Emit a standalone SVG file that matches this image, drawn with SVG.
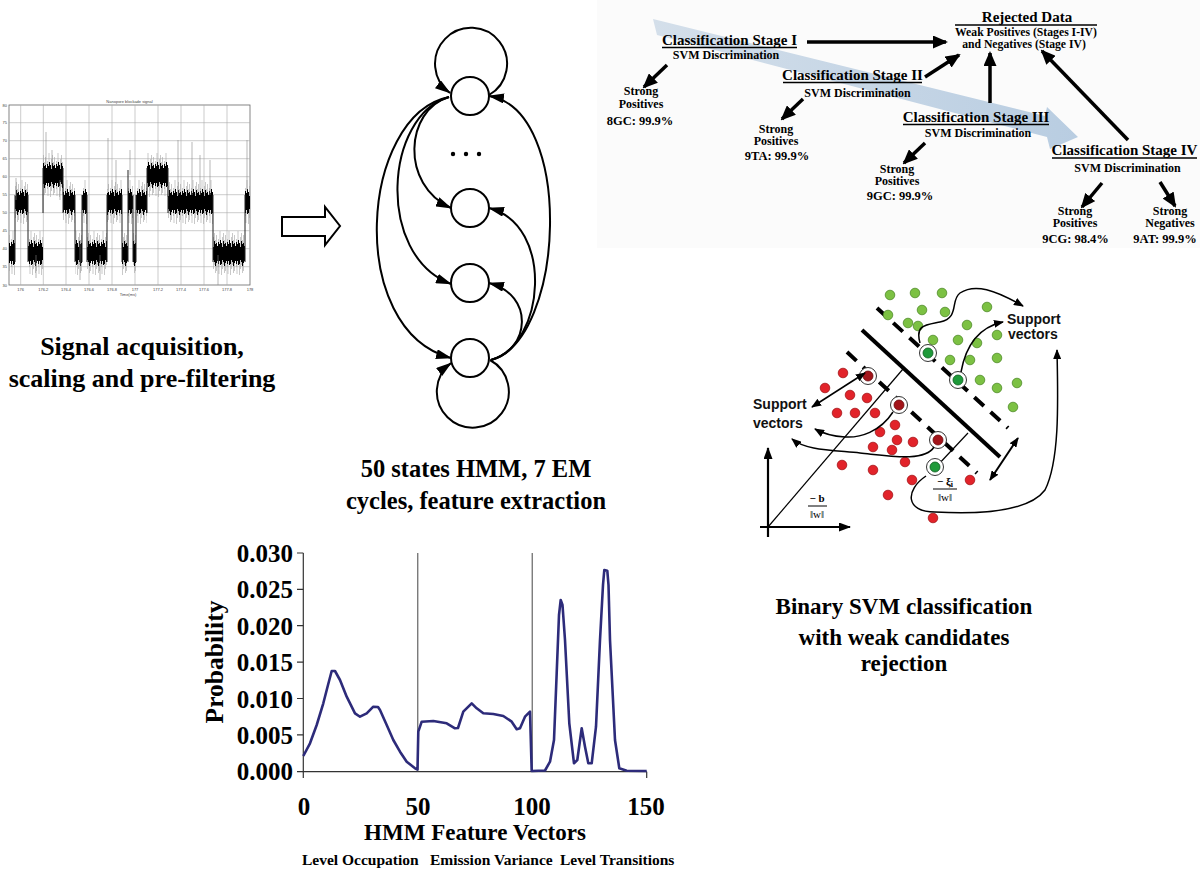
<svg xmlns="http://www.w3.org/2000/svg" width="1200" height="872" viewBox="0 0 1200 872">
<style>
.lbl{font-family:"Liberation Serif","Times New Roman",serif;font-weight:bold;fill:#000}
.big{font-size:24.5px;text-anchor:middle}
.tr{font-size:15px;text-anchor:middle}
.sm{font-size:12px;text-anchor:middle}
.sv{font-family:"Liberation Sans",Arial,sans-serif;font-weight:bold;font-size:14px;fill:#111}
.tiny{font-family:"Liberation Sans",Arial,sans-serif;font-size:4px;fill:#444}
.grid{stroke:#aaa;stroke-width:0.6}
.ul{stroke:#000;stroke-width:1.6}
.thk{stroke:#000;stroke-width:3.5;fill:none}
.hmm{stroke:#000;stroke-width:2;fill:none}
.node{fill:#fff;stroke:#000;stroke-width:2}
.g{fill:#7cc143;stroke:#4f8a2a;stroke-width:0.8}
.r{fill:#e2232a;stroke:#a31418;stroke-width:0.8}
.thin{stroke:#000;stroke-width:1.5;fill:none}
</style>
<defs>
<marker id="ah" markerUnits="userSpaceOnUse" markerWidth="16" markerHeight="10" refX="15" refY="5" orient="auto"><path d="M0,0 L16,5 L0,10 z" fill="#000"/></marker>
<marker id="ab" markerUnits="userSpaceOnUse" markerWidth="15" markerHeight="13" refX="13" refY="6.5" orient="auto"><path d="M0,0 L15,6.5 L0,13 z" fill="#000"/></marker>
<marker id="as" markerUnits="userSpaceOnUse" markerWidth="10" markerHeight="8" refX="9" refY="4" orient="auto-start-reverse"><path d="M0,0 L10,4 L0,8 z" fill="#000"/></marker>
<marker id="ax" markerUnits="userSpaceOnUse" markerWidth="12" markerHeight="9" refX="11" refY="4.5" orient="auto-start-reverse"><path d="M0,0 L12,4.5 L0,9 z" fill="#000"/></marker>
<linearGradient id="band" x1="0" y1="0" x2="1" y2="0">
<stop offset="0" stop-color="#cddae7"/><stop offset="1" stop-color="#adc5dd"/>
</linearGradient>
<pattern id="nzL" patternUnits="userSpaceOnUse" x="0" y="231" width="9" height="44">
<g stroke="#a5a5a5" stroke-width="0.6"><path d="M0.5,4V40M2.5,8V36M4,0V30M5.5,12V44M6.5,6V38M7.5,2V34M8.5,9V42M3,14V43"/></g>
<g stroke="#000" stroke-width="1"><path d="M0.5,12V32M1.5,15V30M2.5,11V33M3.5,13V30M4.5,9V34M5.5,12V33M6.5,16V29M7.5,10V31M8.5,13V35"/></g>
</pattern>
<pattern id="nzM" patternUnits="userSpaceOnUse" x="0" y="180" width="9" height="44">
<g stroke="#a5a5a5" stroke-width="0.6"><path d="M0.5,4V40M2.5,8V36M4,0V30M5.5,12V44M6.5,6V38M7.5,2V34M8.5,9V42M3,14V43"/></g>
<g stroke="#000" stroke-width="1"><path d="M0.5,12V32M1.5,15V30M2.5,11V33M3.5,13V30M4.5,9V34M5.5,12V33M6.5,16V29M7.5,10V31M8.5,13V35"/></g>
</pattern>
<pattern id="nzH" patternUnits="userSpaceOnUse" x="0" y="153" width="9" height="44">
<g stroke="#a5a5a5" stroke-width="0.6"><path d="M0.5,4V40M2.5,8V36M4,0V30M5.5,12V44M6.5,6V38M7.5,2V34M8.5,9V42M3,14V43"/></g>
<g stroke="#000" stroke-width="1"><path d="M0.5,12V32M1.5,15V30M2.5,11V33M3.5,13V30M4.5,9V34M5.5,12V33M6.5,16V29M7.5,10V31M8.5,13V35"/></g>
</pattern>
</defs>
<rect width="1200" height="872" fill="#fff"/>

<!-- Signal plot -->
<g id="signal-plot">
<rect x="9" y="105" width="241" height="180" fill="#fff" stroke="#666" stroke-width="0.8"/>
<g class="grid">
<path d="M20.7,105V285M43.3,105V285M66,105V285M89,105V285M112,105V285M135,105V285M158,105V285M181,105V285M204,105V285M227,105V285"/>
<path d="M9,122.7H250M9,140.7H250M9,158.7H250M9,176.7H250M9,194.7H250M9,212.7H250M9,230.7H250M9,248.7H250M9,266.7H250"/>
</g>
<rect x="9" y="231" width="6" height="44" fill="url(#nzL)"/>
<rect x="15" y="180" width="13" height="44" fill="url(#nzM)"/>
<rect x="28" y="231" width="15" height="44" fill="url(#nzL)"/>
<rect x="43" y="153" width="20" height="44" fill="url(#nzH)"/>
<rect x="63" y="180" width="12" height="44" fill="url(#nzM)"/>
<rect x="75" y="231" width="7" height="44" fill="url(#nzL)"/>
<rect x="82" y="180" width="5" height="44" fill="url(#nzM)"/>
<rect x="87" y="231" width="20" height="44" fill="url(#nzL)"/>
<rect x="107" y="180" width="15" height="44" fill="url(#nzM)"/>
<rect x="122" y="231" width="6" height="44" fill="url(#nzL)"/>
<rect x="128" y="180" width="5" height="44" fill="url(#nzM)"/>
<rect x="133" y="231" width="3" height="44" fill="url(#nzL)"/>
<rect x="136" y="180" width="11" height="44" fill="url(#nzM)"/>
<rect x="147" y="153" width="21" height="44" fill="url(#nzH)"/>
<rect x="168" y="180" width="45" height="44" fill="url(#nzM)"/>
<rect x="213" y="231" width="32" height="44" fill="url(#nzL)"/>
<rect x="245" y="180" width="5" height="44" fill="url(#nzM)"/>
<g stroke="#222" stroke-width="1">
<path d="M15,195V262M28,195V262M43,168V213M63,168V213M75,195V262M82,195V262M87,195V262M107,195V262M122,195V262M128,170V262M133,195V262M136,195V262M147,168V213M168,168V213M213,195V262M245,195V262"/>
</g>
<g stroke="#888" stroke-width="0.6">
<path d="M16,178V200M46,132V165M52,150V165M108,138V190M116,160V190M130,150V175M178,140V195M192,142V195M200,155V195M210,160V195M247,140V190M80,240V280M36,255V278M100,255V280M218,255V285M60,180V200"/>
</g>
<text x="129.5" y="103" class="tiny" text-anchor="middle">Nanopore blockade signal</text>
<g class="tiny" text-anchor="end">
<text x="7" y="106.5">80</text><text x="7" y="124.2">75</text><text x="7" y="142.2">70</text><text x="7" y="160.2">65</text><text x="7" y="178.2">60</text><text x="7" y="196.2">55</text><text x="7" y="214.2">50</text><text x="7" y="232.2">45</text><text x="7" y="250.2">40</text><text x="7" y="268.2">35</text><text x="7" y="286.5">30</text>
</g>
<g class="tiny" text-anchor="middle">
<text x="20.7" y="290.5">176</text><text x="43.3" y="290.5">176.2</text><text x="66" y="290.5">176.4</text><text x="89" y="290.5">176.6</text><text x="112" y="290.5">176.8</text><text x="135" y="290.5">177</text><text x="158" y="290.5">177.2</text><text x="181" y="290.5">177.4</text><text x="204" y="290.5">177.6</text><text x="227" y="290.5">177.8</text><text x="250" y="290.5">178</text>
<text x="128" y="295.5">Time(ms)</text>
</g>
</g>

<g id="label-signal">
<text class="lbl big" x="142" y="355" style="font-size:26px">Signal acquisition,</text>
<text class="lbl big" x="142" y="387" style="font-size:26px">scaling and pre-filtering</text>
</g>

<g id="arrow-1"><polygon points="282,217 325,217 325,207 340,226 325,245 325,236 282,236" fill="#fff" stroke="#000" stroke-width="2"/></g>
<g id="arrow-2"><polygon points="601,217 643,217 643,207 657,226 643,245 643,236 601,236" fill="#fff" stroke="#000" stroke-width="2"/></g>

<!-- HMM -->
<g id="hmm-connectors">
<path class="hmm" d="M489,95 A36 36 0 1 0 450,93" marker-end="url(#ah)"/>
<path class="hmm" d="M490,360 A36 36 0 1 1 451,363" marker-end="url(#ah)"/>
<path class="hmm" d="M449,97 C405,110 400,185 451,208" marker-end="url(#ah)"/>
<path class="hmm" d="M449,97 C385,115 375,255 451,284" marker-end="url(#ah)"/>
<path class="hmm" d="M449,97 C360,115 345,330 451,358" marker-end="url(#ah)"/>
<path class="hmm" d="M491,360 C530,350 535,295 489,283" marker-end="url(#ah)"/>
<path class="hmm" d="M491,360 C545,345 555,225 489,208" marker-end="url(#ah)"/>
<path class="hmm" d="M491,360 C565,340 575,110 489,96" marker-end="url(#ah)"/>
</g>
<g id="hmm-state-1"><circle class="node" cx="470" cy="96" r="19"/></g>
<g id="hmm-dots"><circle cx="453" cy="154" r="2.2"/><circle cx="466" cy="154" r="2.2"/><circle cx="479" cy="154" r="2.2"/></g>
<g id="hmm-state-2"><circle class="node" cx="470" cy="208" r="19"/></g>
<g id="hmm-state-3"><circle class="node" cx="470" cy="283" r="19"/></g>
<g id="hmm-state-4"><circle class="node" cx="470" cy="358" r="19"/></g>

<g id="label-hmm">
<text class="lbl big" x="476" y="477">50 states HMM, 7 EM</text>
<text class="lbl big" x="476" y="509">cycles, feature extraction</text>
</g>

<!-- Classification cascade -->
<rect x="597" y="0" width="603" height="248" fill="#fbfbfb"/>
<polygon points="653,19 1045,116 1047,107 1078,137 1050,149 1047,137 657,35" fill="url(#band)" opacity="0.85"/>

<g id="cascade-connectors">
<path class="thk" d="M807,42 L946,42" marker-end="url(#ab)"/>
<path class="thk" d="M925,77 L959,55" marker-end="url(#ab)"/>
<path class="thk" d="M990,103 L990,53" marker-end="url(#ab)"/>
<path class="thk" d="M1128,140 L1042,51" marker-end="url(#ab)"/>
<path class="thk" d="M667,65 L644,87" marker-end="url(#ab)"/>
<path class="thk" d="M803,99 L782,119" marker-end="url(#ab)"/>
<path class="thk" d="M925,143 L904,163" marker-end="url(#ab)"/>
<path class="thk" d="M1102,183 L1082,207" marker-end="url(#ab)"/>
<path class="thk" d="M1160,182 L1175,206" marker-end="url(#ab)"/>
</g>

<g id="rejected-data">
<text class="lbl tr" x="1027" y="22">Rejected Data</text>
<line class="ul" x1="955" y1="25" x2="1097" y2="25"/>
<text class="lbl" x="1026" y="36" style="font-size:11.7px;text-anchor:middle">Weak Positives (Stages I-IV)</text>
<text class="lbl" x="1024" y="48" style="font-size:11.7px;text-anchor:middle">and Negatives (Stage IV)</text>
</g>
<g id="stage-1">
<text class="lbl tr" x="729.5" y="45">Classification Stage I</text>
<line class="ul" x1="662" y1="47.5" x2="797" y2="47.5"/>
<text class="lbl sm" x="726" y="59">SVM Discrimination</text>
</g>
<g id="stage-2">
<text class="lbl tr" x="852.5" y="80">Classification Stage II</text>
<line class="ul" x1="783" y1="82.5" x2="922" y2="82.5"/>
<text class="lbl sm" x="857.5" y="96.5">SVM Discrimination</text>
</g>
<g id="stage-3">
<text class="lbl tr" x="976" y="121.5">Classification Stage III</text>
<line class="ul" x1="903" y1="124.5" x2="1049" y2="124.5"/>
<text class="lbl sm" x="978" y="137">SVM Discrimination</text>
</g>
<g id="stage-4">
<text class="lbl tr" x="1124.5" y="155">Classification Stage IV</text>
<line class="ul" x1="1052" y1="158" x2="1197" y2="158"/>
<text class="lbl sm" x="1127.5" y="171.5">SVM Discrimination</text>
</g>
<g id="strong-pos-1">
<text class="lbl sm" x="641" y="95">Strong</text><text class="lbl sm" x="641" y="107.5">Positives</text>
<text class="lbl" x="640" y="125" style="font-size:12.5px;text-anchor:middle">8GC: 99.9%</text>
</g>
<g id="strong-pos-2">
<text class="lbl sm" x="776" y="132.5">Strong</text><text class="lbl sm" x="776" y="144.5">Positives</text>
<text class="lbl" x="777" y="160" style="font-size:12.5px;text-anchor:middle">9TA: 99.9%</text>
</g>
<g id="strong-pos-3">
<text class="lbl sm" x="897" y="173">Strong</text><text class="lbl sm" x="897" y="185">Positives</text>
<text class="lbl" x="900" y="200" style="font-size:12.5px;text-anchor:middle">9GC: 99.9%</text>
</g>
<g id="strong-pos-4">
<text class="lbl sm" x="1075" y="215">Strong</text><text class="lbl sm" x="1075" y="227">Positives</text>
<text class="lbl" x="1075.5" y="243" style="font-size:12.5px;text-anchor:middle">9CG: 98.4%</text>
</g>
<g id="strong-neg-4">
<text class="lbl sm" x="1170" y="215">Strong</text><text class="lbl sm" x="1170" y="227">Negatives</text>
<text class="lbl" x="1165" y="243" style="font-size:12.5px;text-anchor:middle">9AT: 99.9%</text>
</g>

<!-- SVM -->
<g id="svm-plot">
<path d="M768,537 L768,448" class="thin" style="stroke-width:2.2" marker-end="url(#ax)"/>
<path d="M760,527 L850,527" class="thin" style="stroke-width:2.2" marker-end="url(#ax)"/>
<path d="M768,527 L903,369" class="thin" style="stroke-width:1.2"/>
<path d="M968,433 L936,467" class="thin" style="stroke-width:1.2"/>
<path d="M862,330 L1000,457" stroke="#000" stroke-width="4"/>
<path d="M877,308 L1008,428" stroke="#000" stroke-width="4" stroke-dasharray="13 9"/>
<path d="M847,352 L977,473" stroke="#000" stroke-width="4" stroke-dasharray="13 9"/>
<path d="M990,480 L1018,438" class="thin" style="stroke-width:2" marker-start="url(#as)" marker-end="url(#as)"/>
<g>
<circle class="g" cx="890" cy="295" r="4.8"/><circle class="g" cx="915" cy="293" r="4.8"/><circle class="g" cx="942" cy="293" r="4.8"/><circle class="g" cx="922" cy="310" r="4.8"/><circle class="g" cx="945" cy="312" r="4.8"/><circle class="g" cx="888" cy="315" r="4.8"/><circle class="g" cx="908" cy="323" r="4.8"/><circle class="g" cx="918" cy="326" r="4.8"/><circle class="g" cx="967" cy="325" r="4.8"/><circle class="g" cx="987" cy="307" r="4.8"/><circle class="g" cx="997" cy="335" r="4.8"/><circle class="g" cx="933" cy="340" r="4.8"/><circle class="g" cx="958" cy="340" r="4.8"/><circle class="g" cx="977" cy="343" r="4.8"/><circle class="g" cx="950" cy="360" r="4.8"/><circle class="g" cx="970" cy="360" r="4.8"/><circle class="g" cx="997" cy="358" r="4.8"/><circle class="g" cx="980" cy="380" r="4.8"/><circle class="g" cx="997" cy="388" r="4.8"/><circle class="g" cx="1017" cy="383" r="4.8"/><circle class="g" cx="1013" cy="407" r="4.8"/>
</g>
<g>
<circle class="r" cx="843" cy="373" r="4.8"/><circle class="r" cx="825" cy="388" r="4.8"/><circle class="r" cx="850" cy="395" r="4.8"/><circle class="r" cx="867" cy="398" r="4.8"/><circle class="r" cx="837" cy="413" r="4.8"/><circle class="r" cx="855" cy="413" r="4.8"/><circle class="r" cx="875" cy="413" r="4.8"/><circle class="r" cx="880" cy="432" r="4.8"/><circle class="r" cx="895" cy="425" r="4.8"/><circle class="r" cx="897" cy="440" r="4.8"/><circle class="r" cx="873" cy="447" r="4.8"/><circle class="r" cx="892" cy="450" r="4.8"/><circle class="r" cx="913" cy="442" r="4.8"/><circle class="r" cx="905" cy="462" r="4.8"/><circle class="r" cx="842" cy="465" r="4.8"/><circle class="r" cx="873" cy="470" r="4.8"/><circle class="r" cx="912" cy="480" r="4.8"/><circle class="r" cx="888" cy="495" r="4.8"/><circle class="r" cx="933" cy="518" r="4.8"/><circle class="r" cx="970" cy="480" r="4.8"/>
</g>
<g fill="#fff" stroke="#333" stroke-width="1">
<circle cx="928" cy="353" r="8.5"/><circle cx="958" cy="380" r="8.5"/><circle cx="935" cy="467" r="8.5"/>
<circle cx="868" cy="376" r="8.5"/><circle cx="899" cy="405" r="8.5"/><circle cx="938" cy="440" r="8.5"/>
</g>
<circle cx="928" cy="353" r="5" fill="#1f9a3a" stroke="#0d5c20" stroke-width="0.8"/>
<circle cx="958" cy="380" r="5" fill="#1f9a3a" stroke="#0d5c20" stroke-width="0.8"/>
<circle cx="935" cy="467" r="5" fill="#1f9a3a" stroke="#0d5c20" stroke-width="0.8"/>
<circle cx="868" cy="376" r="5" fill="#a3141a" stroke="#6a0a0d" stroke-width="0.8"/>
<circle cx="899" cy="405" r="5" fill="#a3141a" stroke="#6a0a0d" stroke-width="0.8"/>
<circle cx="938" cy="440" r="5" fill="#a3141a" stroke="#6a0a0d" stroke-width="0.8"/>
</g>
<g id="svm-connectors">
<path class="thin" d="M920,343 C915,325 925,325 940,322 C960,318 950,300 960,293 C975,283 995,290 1023,306" marker-end="url(#as)"/>
<path class="thin" d="M961,372 C965,350 975,328 1003,322" marker-end="url(#as)"/>
<path class="thin" d="M926,476 C905,490 905,512 935,512 C990,515 1030,510 1045,490 C1060,460 1058,400 1057,350" marker-end="url(#as)"/>
<path class="thin" d="M865,373 L812,407" marker-start="url(#as)" marker-end="url(#as)"/>
<path class="thin" d="M893,412 C880,432 860,438 845,437 C830,436 822,433 815,429" marker-end="url(#as)"/>
<path class="thin" d="M934,447 C925,462 890,456 860,453 C830,450 805,450 792,439" marker-end="url(#as)"/>
</g>
<g id="svm-labels">
<text class="sv" x="1007" y="324">Support</text>
<text class="sv" x="1008" y="339">vectors</text>
<text class="sv" x="753" y="409">Support</text>
<text class="sv" x="753" y="428">vectors</text>
<g class="lbl" style="font-size:11px;text-anchor:middle">
<text x="817" y="502">− b</text>
<line x1="808" y1="506" x2="827" y2="506" stroke="#000" stroke-width="1"/>
<text x="817" y="518" style="font-weight:normal">‖w‖</text>
<text x="945" y="485">− ξ<tspan style="font-size:8px" dy="2">i</tspan></text>
<line x1="933" y1="489" x2="957" y2="489" stroke="#000" stroke-width="1"/>
<text x="945" y="501" style="font-weight:normal">‖w‖</text>
</g>
</g>
<g id="label-svm">
<text class="lbl" x="904" y="614" style="font-size:23px;text-anchor:middle">Binary SVM classification</text>
<text class="lbl" x="904" y="645" style="font-size:23px;text-anchor:middle">with weak candidates</text>
<text class="lbl" x="904" y="671" style="font-size:23px;text-anchor:middle">rejection</text>
</g>

<!-- Probability chart -->
<g id="prob-chart">
<path d="M303.3,553V771.7H646.7" fill="none" stroke="#333" stroke-width="1.2"/>
<path d="M297,553H303.3M297,589.3H303.3M297,625.7H303.3M297,662.1H303.3M297,698.5H303.3M297,734.9H303.3M297,771.7H303.3M303.3,771.7V778M646.7,771.7V778" stroke="#333" stroke-width="1.2"/>
<path d="M417.8,553V771.7M532.2,553V771.7" stroke="#444" stroke-width="1"/>
<polyline fill="none" stroke="#2d2b7a" stroke-width="2.6" stroke-linejoin="round" points="303.3,756 310,743.3 316.7,725 323.3,703.3 328,685 331.7,671 335,671 340,680 346.7,696.7 355,713.3 360,716.7 366.7,713.3 373.3,706.7 378,707 380,710 386.7,725 393.3,740 400,751.7 406.7,761.7 415,768.3 417.5,769.5 418.3,731.7 421.7,721.7 433.3,721 446.7,723.3 455,728.3 458,728 463.3,711.7 471.7,703.3 476.7,708.3 483.3,713.3 493.3,714 503.3,716 511.7,721.7 516.7,729.3 520,728.3 525,716.7 530,711.7 531.7,771 545,770.5 550,761.7 554,740 556.7,673 559,615 560.7,600 562.5,605 565,640 569.3,723.3 574,763.3 577.3,760 581.7,728.3 585,746.7 588.3,763.3 591.7,763.3 596,726.7 600,640 603,585 604.3,570 607.3,570.7 608.5,585 610,640 615,740 619.3,768.3 626.7,770.7 646.7,771"/>
<g class="lbl" style="font-size:25px;text-anchor:end">
<text x="293" y="562">0.030</text><text x="293" y="598">0.025</text><text x="293" y="634.5">0.020</text><text x="293" y="671">0.015</text><text x="293" y="707.5">0.010</text><text x="293" y="744">0.005</text><text x="293" y="780">0.000</text>
</g>
<g class="lbl" style="font-size:25px;text-anchor:middle">
<text x="304" y="815">0</text><text x="418" y="815">50</text><text x="532" y="815">100</text><text x="646" y="815">150</text>
</g>
<text class="lbl" x="475" y="840" style="font-size:23px;text-anchor:middle">HMM Feature Vectors</text>
<text class="lbl" x="0" y="0" transform="translate(223,662) rotate(-90)" style="font-size:25.5px;text-anchor:middle">Probability</text>
<g class="lbl" style="font-size:15.5px">
<text x="302" y="865">Level Occupation</text><text x="430" y="865">Emission Variance</text><text x="560" y="865">Level Transitions</text>
</g>
</g>
</svg>
